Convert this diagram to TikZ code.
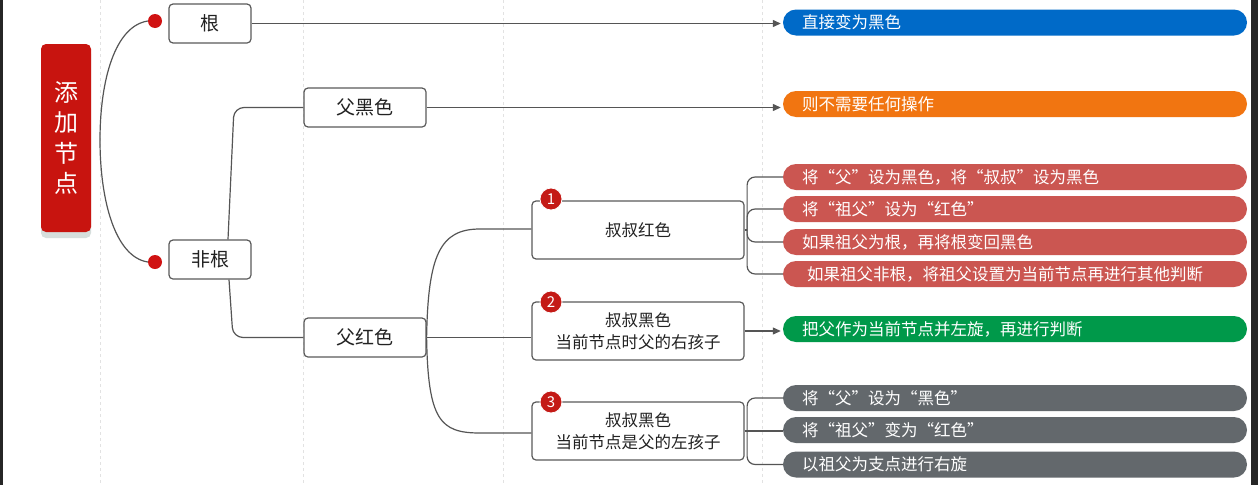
\documentclass[tikz,border=0pt]{standalone}
\usepackage{fontspec}
\setmainfont{Noto Sans CJK SC}
\usetikzlibrary{arrows.meta}
\definecolor{mainred}{HTML}{C8140F}
\definecolor{badgered}{HTML}{C41A16}
\definecolor{dotred}{HTML}{D01212}
\definecolor{barblue}{HTML}{006AC8}
\definecolor{barorange}{HTML}{F17511}
\definecolor{barred}{HTML}{CB5651}
\definecolor{bargreen}{HTML}{00994A}
\definecolor{bargray}{HTML}{63686C}
\definecolor{connc}{HTML}{555555}
\definecolor{boxc}{HTML}{5A5A5A}
\definecolor{txt}{HTML}{222222}
\definecolor{shadowc}{HTML}{D6DEDC}
\definecolor{gridc}{HTML}{E2E2E2}
\begin{document}
\begin{tikzpicture}[x=1pt,y=-1pt,
  box/.style={draw=boxc, line width=1.2pt, rounded corners=4pt, fill=white, text=txt, inner sep=0pt},
  lvtwo/.style={box, minimum width=82pt, minimum height=39pt, font=\fontsize{19}{22}\selectfont},
  lvtwowide/.style={lvtwo, minimum width=122pt},
  lvthree/.style={box, minimum width=212pt, minimum height=58pt, align=center, font=\fontsize{16.5}{22}\selectfont},
  bar/.style={rounded corners=13pt, minimum width=464pt, minimum height=26pt, text width=426pt, align=left, inner xsep=19pt, inner ysep=0pt, text=white, font=\fontsize{16.5}{20}\selectfont},
  badge/.style={circle, fill=badgered, draw=white, line width=0.8pt, minimum size=22pt, inner sep=0pt, text=white, font=\fontsize{15}{15}\selectfont},
  conn/.style={draw=connc, line width=1.2pt},
  arr/.style={conn, -{Triangle[length=8pt,width=7pt]}, shorten >=2pt},
  gridline/.style={draw=gridc, line width=0.6pt, dashed}
]
\path[use as bounding box, fill=white] (0,0) rectangle (1258,485);
\fill[black!85] (0,0) rectangle (2.5,485);
\fill[black!85] (1251,0) rectangle (1258,485);
\foreach \gx in {100,303,503,762} \draw[gridline] (\gx,0) -- (\gx,485);

% main node
\fill[shadowc, rounded corners=5pt] (41,49) rectangle (91,238);
\node[fill=mainred, rounded corners=5pt, minimum width=50pt, minimum height=188pt, inner sep=0pt, text=white, align=center, font=\fontsize{24}{30.5}\selectfont] (main) at (66,138) {\raisebox{-4pt}{\parbox{30pt}{\centering 添\\加\\节\\点}}};

% dots and bracket
\node[circle, fill=dotred, minimum size=14pt, inner sep=0pt] (d1) at (155,21) {};
\node[circle, fill=dotred, minimum size=14pt, inner sep=0pt] (d2) at (155,262) {};
\draw[conn] (d1.west) .. controls (115,26) and (100,80) .. (100,140) .. controls (100,200) and (115,257) .. (d2.west);

% level 2
\node[lvtwo] (gen) at (210,23.5) {根};
\node[lvtwo] (feigen) at (210,259.5) {非根};
\node[lvtwowide] (fuhei) at (365,107.5) {父黑色};
\node[lvtwowide] (fuhong) at (365,337.5) {父红色};

% level 3
\node[lvthree] (n1) at (638,230) {叔叔红色};
\node[lvthree] (n2) at (638,331) {叔叔黑色\\当前节点时父的右孩子};
\node[lvthree] (n3) at (638,431) {叔叔黑色\\当前节点是父的左孩子};
\node[badge] (b1) at (551,199) {1};
\node[badge] (b2) at (551,302) {2};
\node[badge] (b3) at (551,402) {3};

% bars
\node[bar, fill=barblue] (blue) at (1015,22.5) {直接变为黑色};
\node[bar, fill=barorange] (orange) at (1015,104) {则不需要任何操作};
\node[bar, fill=barred] (r1) at (1015,177) {将“父”设为黑色，将“叔叔”设为黑色};
\node[bar, fill=barred] (r2) at (1015,209) {将“祖父”设为“红色”};
\node[bar, fill=barred] (r3) at (1015,242) {如果祖父为根，再将根变回黑色};
\node[bar, fill=barred] (r4) at (1015,274) {\hspace*{5pt}如果祖父非根，将祖父设置为当前节点再进行其他判断};
\node[bar, fill=bargreen] (green) at (1015,329) {把父作为当前节点并左旋，再进行判断};
\node[bar, fill=bargray] (g1) at (1015,398) {将“父”设为“黑色”};
\node[bar, fill=bargray] (g2) at (1015,430) {将“祖父”变为“红色”};
\node[bar, fill=bargray] (g3) at (1015,464.5) {以祖父为支点进行右旋};

% connectors
\draw[arr] (gen.east) -- (gen.east -| blue.west);
\draw[arr] (fuhei.east) -- (fuhei.east -| orange.west);
\draw[conn, rounded corners=10pt] ([xshift=18pt]feigen.north) -- ([xshift=24pt]feigen.north |- fuhei.west) -- (fuhei.west);
\draw[conn, rounded corners=10pt] ([xshift=19pt]feigen.south) -- ([xshift=23pt]feigen.south |- fuhong.west) -- (fuhong.west);
\draw[conn] (fuhong.east) .. controls (428,255) and (440,229) .. (480,229) -- (n1.west |- 0,229);
\draw[conn] (fuhong.east) -- (fuhong.east -| n2.west);
\draw[conn] (fuhong.east) .. controls (428,420) and (440,433) .. (480,433) -- (n3.west |- 0,433);
\draw[arr] (n2.east) -- (n2.east -| green.west);
\coordinate (k1) at ([xshift=2.5pt]n1.east);
\coordinate (k3) at ([xshift=2.5pt]n3.east);
\draw[conn] (n1.east) -- (k1);
\draw[conn] (n3.east) -- (k3);
\foreach \b in {r1,r2,r3,r4} \draw[conn, rounded corners=8pt] (k1) |- (\b.west);
\foreach \b in {g1,g3} \draw[conn, rounded corners=8pt] (k3) |- (\b.west);
\draw[conn] (n3.east) -- (n3.east -| g2.west);
\end{tikzpicture}
\end{document}
